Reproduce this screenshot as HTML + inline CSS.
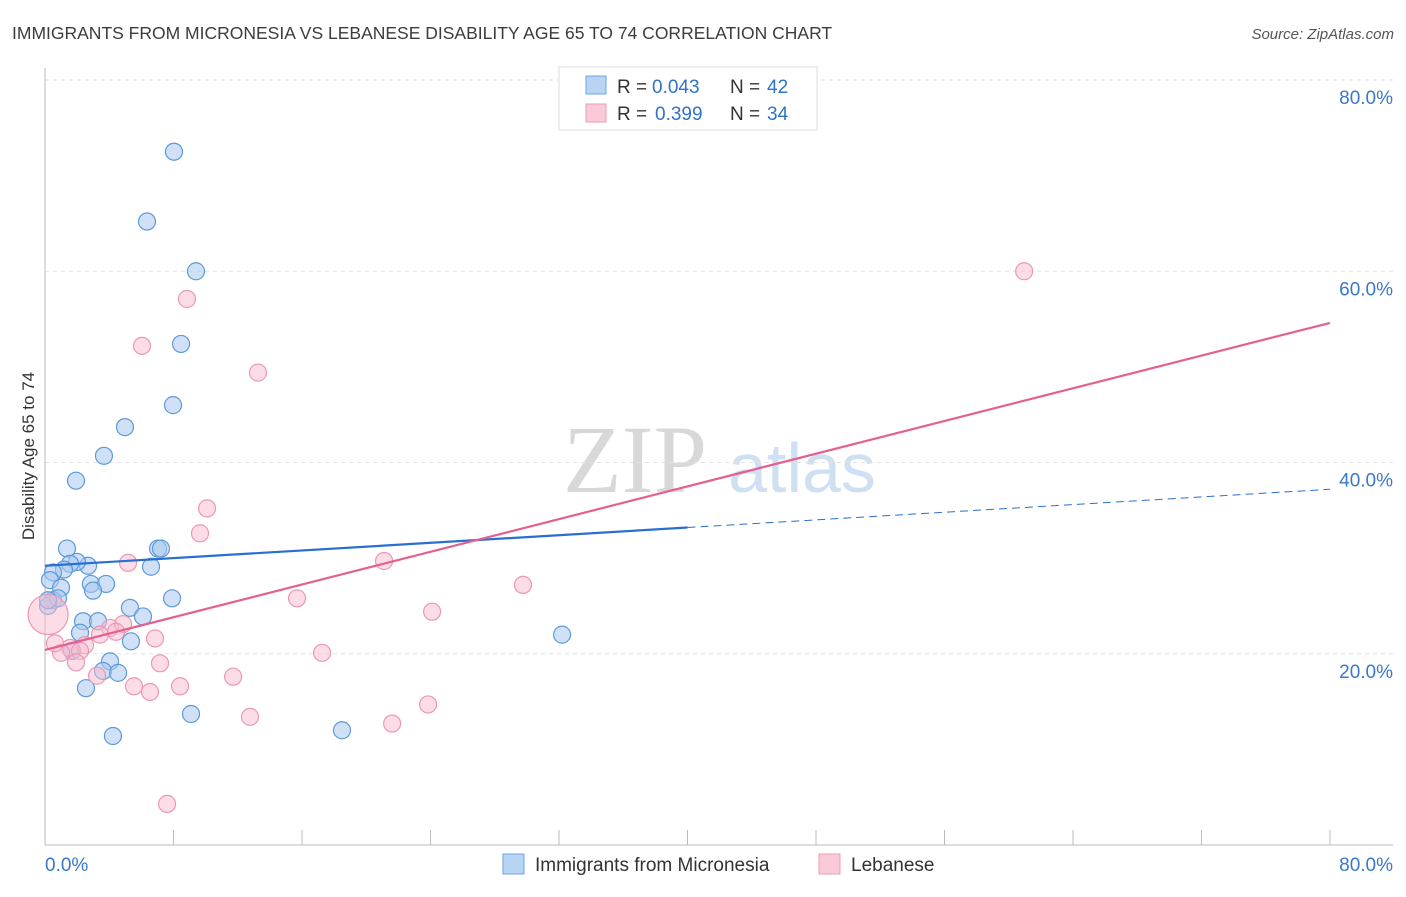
<!DOCTYPE html>
<html><head><meta charset="utf-8"><style>
body{margin:0;background:#fff;font-family:"Liberation Sans",sans-serif;}
svg text{font-family:"Liberation Sans",sans-serif;}
</style></head><body>
<svg id="c" width="1406" height="892" xmlns="http://www.w3.org/2000/svg">
<text x="12" y="39" font-size="17.5" fill="#3c3c3c">IMMIGRANTS FROM MICRONESIA VS LEBANESE DISABILITY AGE 65 TO 74 CORRELATION CHART</text>
<text x="1394" y="39" font-size="15" fill="#555" font-style="italic" text-anchor="end">Source: ZipAtlas.com</text>
<g>
<text x="635" y="492" font-size="96" fill="#d8d8d8" text-anchor="middle" font-family="Liberation Serif" style="font-family:'Liberation Serif',serif">ZIP</text>
<text x="802" y="492" font-size="70" fill="#cfe0f2" text-anchor="middle">atlas</text>
</g>
<g id="grid"></g>
<g id="axes"></g>
<g id="pts"></g>
<g id="trend"></g>
<text transform="translate(34,456) rotate(-90)" font-size="17" fill="#333" text-anchor="middle">Disability Age 65 to 74</text>
<g>
<rect x="559" y="67" width="258" height="63" fill="#fff" stroke="#ddd"/>
<rect x="586" y="76" width="20" height="18" fill="#b8d4f4" stroke="#6fa3dd"/>
<rect x="586" y="104" width="20" height="18" fill="#fbcad8" stroke="#ec9db5"/>
<text x="617" y="93" font-size="19" fill="#333">R =</text>
<text x="652" y="93" font-size="19" fill="#2f72c8">0.043</text>
<text x="730" y="93" font-size="19" fill="#333">N =</text>
<text x="767" y="93" font-size="19" fill="#2f72c8">42</text>
<text x="617" y="120" font-size="19" fill="#333">R =</text>
<text x="655" y="120" font-size="19" fill="#2f72c8">0.399</text>
<text x="730" y="120" font-size="19" fill="#333">N =</text>
<text x="767" y="120" font-size="19" fill="#2f72c8">34</text>
</g>
<g>
<rect x="503" y="854" width="21" height="20" fill="#b8d4f4" stroke="#6fa3dd"/>
<text x="535" y="871" font-size="19" fill="#333">Immigrants from Micronesia</text>
<rect x="819" y="854" width="21" height="20" fill="#fbcad8" stroke="#ec9db5"/>
<text x="851" y="871" font-size="19" fill="#333">Lebanese</text>
</g>
</svg>
<script>
const blueX=[8.03,6.35,9.40,8.47,7.97,4.98,3.67,1.93,1.37,7.04,7.22,6.60,2.68,1.99,1.56,1.18,0.50,0.31,1.00,2.86,3.80,2.99,0.50,0.19,7.91,5.29,6.10,2.37,3.30,2.18,5.35,1.68,4.05,3.61,4.55,2.55,9.09,4.23,18.49,32.19,0.81,0.19];
const blueY=[72.5,65.2,60.0,52.4,46.0,43.7,40.7,38.1,31.0,31.0,31.0,29.1,29.2,29.6,29.4,28.8,28.5,27.7,26.9,27.3,27.3,26.6,25.6,25.0,25.8,24.8,23.9,23.4,23.4,22.2,21.3,20.3,19.2,18.2,18.0,16.4,13.7,11.4,12.0,22.0,25.8,25.6];
const pinkX=[60.96,8.84,6.04,13.26,10.09,9.65,5.17,21.11,29.76,15.69,24.10,4.05,4.86,6.85,3.42,4.42,2.49,1.56,1.00,2.18,7.16,1.93,3.24,5.54,6.54,8.41,11.71,12.76,17.25,21.61,23.85,7.60,0.19,0.62];
const pinkY=[60.0,57.1,52.2,49.4,35.2,32.6,29.5,29.7,27.2,25.8,24.4,22.7,23.1,21.6,22.0,22.3,20.9,20.6,20.1,20.3,19.0,19.1,17.7,16.6,16.0,16.6,17.6,13.4,20.1,12.7,14.7,4.3,24.1,21.1];
const blueTrend=[29.2,37.2];
const pinkTrend=[20.4,54.6];
const yTicks=[20,40,60,80];
const yTickLabels=["20.0%","40.0%","60.0%","80.0%"];
const xTicks=[0,8,16,24,32,40,48,56,64,72,80];
const xLabels=["0.0%","80.0%"];
const NS="http://www.w3.org/2000/svg";
const sx=v=>45+v*16.0625, sy=v=>845-v*9.5625;
function mk(p,t,a){const e=document.createElementNS(NS,t);for(const k in a)e.setAttribute(k,a[k]);document.getElementById(p).appendChild(e);return e;}
yTicks.forEach((t,i)=>{
 const g=mk('grid','line',{x1:45,x2:1393,y1:sy(t),y2:sy(t),stroke:'#e2e2e2','stroke-dasharray':'4,4'});
 
 
 const l=mk('grid','text',{x:1393,y:sy(t)+24,'text-anchor':'end','font-size':19,fill:'#3a78c8'});
 l.textContent=yTickLabels[i];
 
 
});
const ax=mk('axes','line',{x1:45,x2:45,y1:68,y2:845,stroke:'#bbb'});


const bx=mk('axes','line',{x1:45,x2:1393,y1:845,y2:845,stroke:'#bbb'});


xTicks.forEach(t=>{const k=mk('axes','line',{x1:sx(t),x2:sx(t),y1:830,y2:845,stroke:'#bbb'});
 
 });
[[0,'start',45],[80,'end',1393]].forEach((d,i)=>{const l=mk('axes','text',{x:d[2],y:871,'text-anchor':d[1],'font-size':19,fill:'#3a78c8'});l.textContent=xLabels[i];
 
 });
blueX.forEach((x,i)=>{const c=mk('pts','circle',{cx:sx(x),cy:sy(blueY[i]),r:8.5,fill:'#a9c9f0','fill-opacity':0.55,stroke:'#5d9ad8','stroke-width':1.2});
 
 });
pinkX.forEach((x,i)=>{const c=mk('pts','circle',{cx:sx(x),cy:sy(pinkY[i]),r:i==32?20:8.5,fill:'#f9bccf','fill-opacity':0.5,stroke:'#ec97b2','stroke-width':1.2});
 
 });
const bAt=x=>blueTrend[0]+(blueTrend[1]-blueTrend[0])*x/80;
const b1=mk('trend','line',{x1:sx(0),y1:sy(bAt(0)),x2:sx(40),y2:sy(bAt(40)),stroke:'#2a6fd0','stroke-width':2.2});


const b2=mk('trend','line',{x1:sx(40),y1:sy(bAt(40)),x2:sx(80),y2:sy(bAt(80)),stroke:'#2a6fd0','stroke-width':1,'stroke-dasharray':'8,5'});


const p1=mk('trend','line',{x1:sx(0),y1:sy(pinkTrend[0]),x2:sx(80),y2:sy(pinkTrend[1]),stroke:'#e4608e','stroke-width':2.2});


</script>
</body></html>
